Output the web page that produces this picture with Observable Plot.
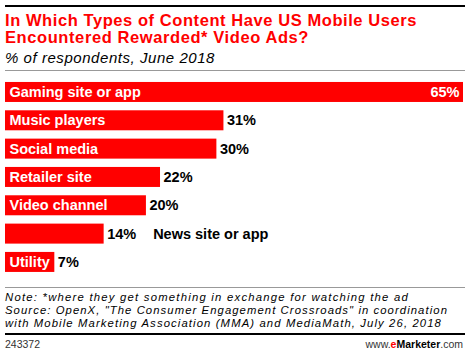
<!DOCTYPE html>
<html>
<head>
<meta charset="utf-8">
<script src="https://cdn.jsdelivr.net/npm/d3@7"></script>
<script src="https://cdn.jsdelivr.net/npm/@observablehq/plot@0.6"></script>
<style>
  html, body { margin: 0; padding: 0; background: #fff; }
  body { width: 470px; height: 357px; position: relative; overflow: hidden; font-family: "Liberation Sans", Arial, sans-serif; }
  .line { position: absolute; white-space: nowrap; display: inline-block; }
  .rule { position: absolute; left: 5px; width: 460px; }
  #chart { position: absolute; left: 0; top: 72px; }
</style>
</head>
<body>
<div class="rule" style="top:5px;height:2px;background:#000"></div>
<div class="rule" style="top:70px;height:1px;background:#999"></div>
<div id="chart"></div>
<div class="rule" style="top:287px;height:1px;background:#999"></div>
<div class="rule" style="top:333px;height:2px;background:#000"></div>
<div class="line" style="left:5px;top:338.4px;font-size:10.5px;line-height:12px;color:#333">243372</div>
<div class="line" style="right:7px;top:338.4px;font-size:10.5px;line-height:12px;color:#333">www.<b style="color:#ff0000">e</b><b style="color:#000">Marketer</b>.com</div>
<script>
// ---- data ----
const categories = ["Gaming site or app", "Music players", "Social media", "Retailer site", "Video channel", "News site or app", "Utility"];
const values = [65, 31, 30, 22, 20, 14, 7];
const outsideLabel = "News site or app";

const titleLines = ["In Which Types of Content Have US Mobile Users", "Encountered Rewarded* Video Ads?"];
const subtitle = "% of respondents, June 2018";
const noteLines = [
  "Note: *where they get something in exchange for watching the ad",
  "Source: OpenX, \"The Consumer Engagement Crossroads\" in coordination",
  "with Mobile Marketing Association (MMA) and MediaMath, July 26, 2018"
];

// ---- text lines placed by baseline, stretched to the reference widths ----
function placeLine(text, {x = 5, baseline, size, lh, weight = "normal", style = "normal", color = "#000", width}) {
  const el = document.createElement("div");
  el.className = "line";
  el.textContent = text;
  Object.assign(el.style, {
    left: x + "px", fontSize: size + "px", lineHeight: lh + "px",
    fontWeight: weight, fontStyle: style, color: color
  });
  const off = (lh - 1.117 * size) / 2 + 0.905 * size;
  el.style.top = (baseline - off) + "px";
  document.body.appendChild(el);
  if (width) {
    const w = el.getBoundingClientRect().width;
    el.style.letterSpacing = ((width - w) / text.length) + "px";
  }
}
placeLine(titleLines[0], {baseline: 26, size: 16.5, lh: 17.5, weight: "bold", color: "#ff0000", width: 412});
placeLine(titleLines[1], {baseline: 43.4, size: 16.5, lh: 17.5, weight: "bold", color: "#ff0000", width: 304});
placeLine(subtitle, {baseline: 63, size: 15, lh: 17, style: "italic", width: 210});
const noteWidths = [404, 443, 437];
const noteBase = [301, 314, 327];
noteLines.forEach((t, i) => placeLine(t, {baseline: noteBase[i], size: 11.3, lh: 13, style: "italic", width: noteWidths[i]}));

// ---- chart ----
const data = categories.map((c, i) => ({category: c, value: values[i]}));
const maxV = d3.max(values);

const chart = Plot.plot({
  width: 470,
  height: 214,
  marginLeft: 5,
  marginRight: 7,
  marginTop: 5.8,
  marginBottom: 9.9,
  x: {domain: [0, 65], axis: null},
  y: {domain: categories, axis: null, paddingInner: 0.294, paddingOuter: 0.147, round: false},
  style: {fontFamily: "'Liberation Sans', Arial, sans-serif", background: "transparent"},
  marks: [
    Plot.barX(data, {x: "value", y: "category", fill: "#ff0000"}),
    Plot.text(data.filter(d => d.category !== outsideLabel), {
      x: 0, y: "category", text: "category", textAnchor: "start", dx: 4,
      fill: "white", fontWeight: "bold", fontSize: 14.5
    }),
    Plot.text(data.filter(d => d.category === outsideLabel), {
      x: "value", y: "category", text: "category", textAnchor: "start", dx: 49,
      fill: "black", fontWeight: "bold", fontSize: 14.5
    }),
    Plot.text(data.filter(d => d.value !== maxV), {
      x: "value", y: "category", text: d => d.value + "%", textAnchor: "start", dx: 3,
      fill: "black", fontWeight: "bold", fontSize: 14.5
    }),
    Plot.text(data.filter(d => d.value === maxV), {
      x: "value", y: "category", text: d => d.value + "%", textAnchor: "end", dx: -4,
      fill: "white", fontWeight: "bold", fontSize: 14.5
    })
  ]
});
document.getElementById("chart").appendChild(chart);
</script>
</body>
</html>
